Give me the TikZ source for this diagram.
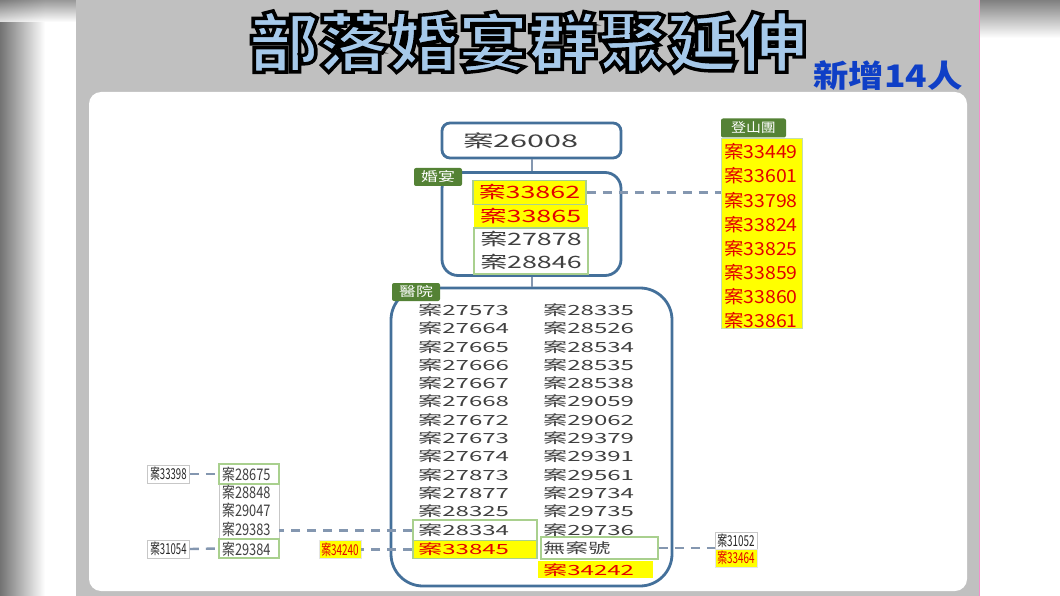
\documentclass[tikz,border=0pt]{standalone}
\usepackage{fontspec}
\setmainfont{Noto Sans CJK TC}
\usepackage{graphicx}
\usepackage{tikz}
\usetikzlibrary{positioning,calc}
\definecolor{boxblue}{HTML}{44709A}
\definecolor{tabgreen}{HTML}{548235}
\definecolor{rimgreen}{HTML}{A9D08E}
\definecolor{linkblue}{HTML}{8497B0}
\definecolor{numgray}{HTML}{404040}
\definecolor{hotred}{HTML}{E30000}
\definecolor{caseyellow}{HTML}{FFFF00}
\definecolor{titleblue}{HTML}{A6C9EA}
\definecolor{newblue}{HTML}{0F3FC6}
\definecolor{panelgray}{HTML}{C0C0C0}
\tikzstyle{grp}=[draw=boxblue,line width=2.8pt,fill=white,inner sep=0pt]
\tikzstyle{tab}=[fill=tabgreen,text=white,rounded corners=2pt,inner sep=0pt,minimum height=18pt,font=\fontsize{13}{13}\selectfont]
\tikzstyle{num}=[text=numgray,inner sep=0pt,anchor=west]
\tikzstyle{hot}=[fill=caseyellow,text=hotred,inner sep=0pt]
\tikzstyle{rim}=[draw=rimgreen,line width=1.6pt,inner sep=0pt]
\tikzstyle{stub}=[draw=black!22,line width=0.8pt,fill=white,inner sep=0pt,minimum width=42pt,minimum height=18pt,text=black!85,font=\fontsize{15}{15}\selectfont]
\tikzstyle{link}=[draw=linkblue,line width=2.4pt,dash pattern=on 9pt off 7pt]
\tikzstyle{stem}=[draw=linkblue,line width=2pt]
\newcommand{\an}[2]{\scalebox{#1}[1]{案#2}}
% outlined title text: fill + black stroke
\newcommand{\ttl}{\special{pdf:literal direct 0 0 0 RG 3.4 w 2 Tr}\scalebox{1.09}[1]{部落婚宴群聚延伸}\special{pdf:literal direct 0 Tr}}

\begin{document}
\begin{tikzpicture}[x=1pt,y=-1pt,
  title/.style={inner sep=0pt,font=\fontsize{64}{64}\bfseries}]
\useasboundingbox (0,0) rectangle (1060,596);
% backdrop
\fill[white] (0,0) rectangle (1060,596);
\shade[left color=black!55,right color=white] (0,0) rectangle (45,596);
\shade[top color=black!50,bottom color=white,opacity=0.8] (0,0) rectangle (76,22);
\shade[top color=black!50,bottom color=white] (980,0) rectangle (1060,38);
\fill[panelgray] (76,0) rectangle (979,596);
\draw[magenta!45,line width=0.7pt] (979.4,0) -- (979.4,596);
\fill[white,rounded corners=12pt] (89,92) rectangle (967,591);

% title
\node[title,text=titleblue] (title) at (528,42) {\ttl};
\node[font=\fontsize{31}{31}\bfseries,text=newblue,inner sep=0pt] (added) at (888,76) {\scalebox{1.14}[1]{新增14人}};

% source case
\node[grp,rounded corners=8pt,minimum width=179pt,minimum height=35pt] (src) at (531.5,140.5) {};
\node[num,anchor=center,font=\fontsize{17.5}{17.5}\selectfont] (c26008) at (521,141) {\an{1.75}{26008}};

% wedding
\node[grp,rounded corners=16pt,minimum width=179pt,minimum height=103pt] (wed) at (531.5,224) {};
\node[hot,rim,minimum width=113pt,minimum height=24pt,font=\fontsize{17}{17}\selectfont] (c33862) at (529.5,192.5) {\an{1.58}{33862}};
\node[hot,minimum width=114pt,minimum height=23pt,font=\fontsize{17}{17}\selectfont] (c33865) at (530.5,216.5) {\an{1.58}{33865}};
\node[rim,fill=white,minimum width=114pt,minimum height=46pt] (wedrest) at (531,251) {};
\node[num,anchor=center,font=\fontsize{17}{17}\selectfont] (c27878) at (531,239) {\an{1.58}{27878}};
\node[num,anchor=center,font=\fontsize{17}{17}\selectfont] (c28846) at (531,262) {\an{1.58}{28846}};
\node[tab,minimum width=48pt] (wedtab) at (438,177) {\scalebox{1.3}[1]{婚宴}};

% climbing group
\node[hot,draw=rimgreen!70,line width=0.8pt,minimum width=81pt,minimum height=190pt] (climb) at (761.5,233) {};
\node[tab,minimum width=65pt,minimum height=19pt] (climbtab) at (753.5,128) {\scalebox{1.15}[1]{登山團}};
\foreach \n [count=\i from 0] in {33449,33601,33798,33824,33825,33859,33860,33861}
  \node[num,text=hotred,font=\fontsize{18}{18}\selectfont] (m\n) at (724,152+24.1*\i) {\an{1.08}{\n}};
\draw[link] (c33862.east) -- (c33862.east -| climb.west);

% hospital
\node[grp,rounded corners=32pt,minimum width=281pt,minimum height=298pt] (hosp) at (531.5,437) {};
\draw[stem] (src.south) -- (wed.north);
\draw[stem] (wed.south) -- (hosp.north);
\node[tab,minimum width=48pt] (hosptab) at (416,292) {\scalebox{1.3}[1]{醫院}};
\node[rim,fill=white,minimum width=124pt,minimum height=21pt] (f28334) at (475,530.5) {};
\node[hot,rim,minimum width=124pt,minimum height=18pt] (f33845) at (475,549.5) {};
\node[rim,fill=white,minimum width=117pt,minimum height=22pt] (fnone) at (599.5,548) {};
\node[hot,minimum width=115pt,minimum height=17pt] (f34242) at (595.5,569.5) {};
\foreach \n [count=\i from 0] in {27573,27664,27665,27666,27667,27668,27672,27673,27674,27873,27877,28325,28334}
  \node[num,font=\fontsize{14}{14}\selectfont] (h\n) at (418,310+18.33*\i) {\an{1.72}{\n}};
\foreach \n [count=\i from 0] in {28335,28526,28534,28535,28538,29059,29062,29379,29391,29561,29734,29735,29736}
  \node[num,font=\fontsize{14}{14}\selectfont] (h\n) at (543,310+18.33*\i) {\an{1.72}{\n}};
\node[num,text=hotred,font=\fontsize{14}{14}\selectfont] (h33845) at (418,549) {\an{1.72}{33845}};
\node[num,font=\fontsize{14}{14}\selectfont] (hnone) at (543,548) {\scalebox{1.6}[1]{無案號}};
\node[num,text=hotred,font=\fontsize{14}{14}\selectfont] (h34242) at (543,570) {\an{1.72}{34242}};

% left group
\node[draw=black!22,line width=0.8pt,fill=white,minimum width=60pt,minimum height=94pt,inner sep=0pt] (lg) at (249,511) {};
\node[rim,fill=white,minimum width=60pt,minimum height=20pt] (f28675) at (249,474) {};
\node[rim,fill=white,minimum width=60pt,minimum height=19pt] (f29384) at (249,548.5) {};
\foreach \n/\y in {28675/474,28848/492,29047/510,29383/529,29384/549}
  \node[num,font=\fontsize{16}{16}\selectfont] (l\n) at (222,\y) {\an{0.8}{\n}};

% side cases
\node[stub] (s33398) at (168.5,474) {\an{0.64}{33398}};
\node[stub] (s31054) at (168.5,549) {\an{0.64}{31054}};
\node[stub,hot,draw=black!10] (s34240) at (340,549.5) {\an{0.66}{34240}};
\node[stub,minimum height=17pt] (s31052) at (736,540.5) {\an{0.66}{31052}};
\node[stub,hot,draw=black!10] (s33464) at (736,558) {\an{0.66}{33464}};

% links
\draw[link] (s33398.east) -- (f28675.west);
\draw[link] (s31054.east) -- (f29384.west);
\draw[link] (f28334.west) -- (f28334.west -| lg.east);
\draw[link] (f33845.west) -- (s34240.east);
\draw[link] (fnone.east) -- (fnone.east -| s31052.west);
\end{tikzpicture}
\end{document}
